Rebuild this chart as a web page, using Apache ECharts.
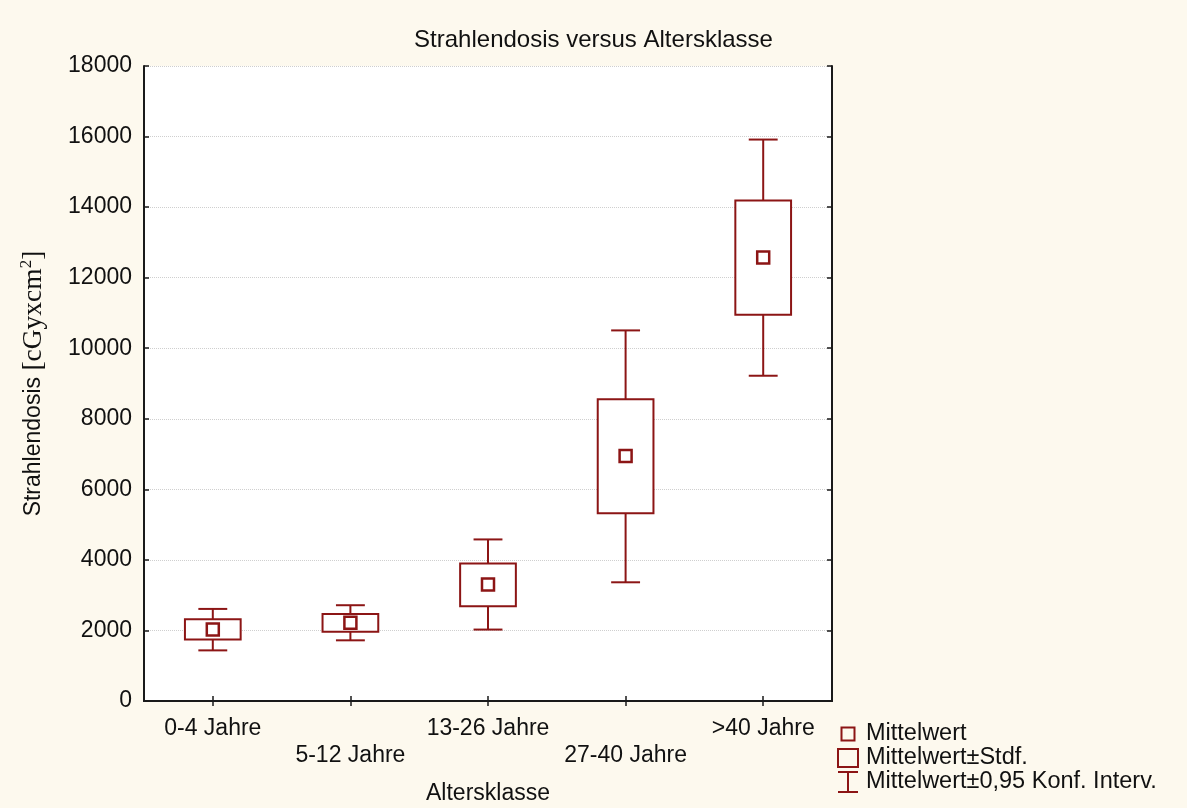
<!DOCTYPE html>
<html>
<head>
<meta charset="utf-8">
<script src="https://cdn.jsdelivr.net/npm/echarts@6/dist/echarts.min.js"></script>
<style>
  html, body { margin: 0; padding: 0; background: #fdf9ee; }
  #chart { width: 1187px; height: 808px; }
</style>
</head>
<body>
<div id="chart"></div>
<script>
// Age classes and dose statistics (cGy·cm²)
const categories = ['0-4 Jahre', '5-12 Jahre', '13-26 Jahre', '27-40 Jahre', '>40 Jahre'];
const means  = [2030, 2220, 3300, 6945, 12570];
const sdLow  = [1740, 1965, 2685, 5325, 10950];
const sdHigh = [2315, 2465, 3900, 8555, 14190];
const ciLow  = [1435, 1720, 2025, 3365, 9220];
const ciHigh = [2610, 2715, 4580, 10505, 15915];

const RED = '#8c1515';
const SANS = 'Liberation Sans, Arial, sans-serif';
const SERIF = 'Liberation Serif, Times New Roman, serif';

const sdData = categories.map((c, i) => [i, sdLow[i], sdHigh[i]]);
const ciData = categories.map((c, i) => [i, ciLow[i], ciHigh[i]]);
const meanData = categories.map((c, i) => [i, means[i]]);

const chart = echarts.init(document.getElementById('chart'));

const frameLine = { show: true, lineStyle: { color: '#1a1a1a', width: 2 } };
const innerTick = { show: true, inside: true, length: 5, lineStyle: { color: '#1a1a1a', width: 1.5 } };

// legend glyphs: drawn in a 20x20 cell, with the bounding box widened to 23 for spacing
const legendIconStyle = { color: 'rgba(0,0,0,0)', borderColor: RED, borderWidth: 2 };

chart.setOption({
  backgroundColor: '#fdf9ee',
  animation: false,
  title: {
    text: 'Strahlendosis versus Altersklasse',
    left: 'center',
    top: 23,
    textStyle: { fontFamily: SANS, fontWeight: 'normal', fontSize: 24, color: '#111' }
  },
  grid: {
    left: 144, right: 355, top: 66, bottom: 107,
    outerBoundsMode: 'none',
    containLabel: false,
    show: true, backgroundColor: '#ffffff', borderWidth: 0
  },
  legend: {
    orient: 'vertical',
    left: 837,
    top: 722,
    height: 86,
    padding: 0,
    itemWidth: 23,
    itemHeight: 20,
    itemGap: 0,
    textStyle: { fontFamily: SANS, fontSize: 23.5, color: '#111', lineHeight: 20 },
    data: [
      { name: 'Mittelwert', icon: 'path://M0,0M23,20M3.5,3.5H16.5V16.5H3.5Z', itemStyle: legendIconStyle },
      { name: 'Mittelwert±Stdf.', icon: 'path://M0,0M23,20M0,1H20V19H0Z', itemStyle: legendIconStyle },
      { name: 'Mittelwert±0,95 Konf. Interv.', icon: 'path://M23,0M0,0H20M10,0V20M0,20H20', itemStyle: legendIconStyle }
    ],
    selectedMode: false
  },
  xAxis: [
    {
      type: 'category',
      data: categories,
      position: 'bottom',
      axisLine: frameLine,
      axisTick: Object.assign({ alignWithLabel: true }, innerTick),
      axisLabel: {
        fontFamily: SANS, fontSize: 23, color: '#111', margin: 14, lineHeight: 27,
        interval: 0,
        formatter: (v, i) => (i % 2 ? '\n' + v : v)
      },
      name: 'Altersklasse',
      nameLocation: 'middle',
      nameGap: 81,
      nameTextStyle: { fontFamily: SANS, fontSize: 23, color: '#111' }
    },
    {
      type: 'category',
      data: categories,
      position: 'top',
      axisLine: frameLine,
      axisTick: Object.assign({ alignWithLabel: true }, innerTick),
      axisLabel: { show: false }
    }
  ],
  yAxis: [
    {
      type: 'value',
      min: 0, max: 18000, interval: 2000,
      position: 'left',
      axisLine: frameLine,
      axisTick: innerTick,
      axisLabel: {
        fontFamily: SANS, fontSize: 23, color: '#111', margin: 12,
        formatter: v => String(v)
      },
      splitLine: { show: true, lineStyle: { color: '#cfcfcf', type: [1, 1], width: 1 } },
      name: '{a|Strahlendosis }{b|[cGyxcm}{c|2}{b|]}',
      nameLocation: 'middle',
      nameGap: 94,
      nameTextStyle: {
        rich: {
          a: { fontFamily: SANS, fontSize: 23, color: '#111', lineHeight: 32 },
          b: { fontFamily: SERIF, fontSize: 27.5, color: '#111', lineHeight: 32 },
          c: { fontFamily: SERIF, fontSize: 17, color: '#111', verticalAlign: 'top', lineHeight: 17 }
        }
      }
    },
    {
      type: 'value',
      min: 0, max: 18000, interval: 2000,
      position: 'right',
      axisLine: frameLine,
      axisTick: innerTick,
      axisLabel: { show: false },
      splitLine: { show: false }
    }
  ],
  series: [
    {
      name: 'Mittelwert±0,95 Konf. Interv.',
      type: 'custom',
      itemStyle: { color: RED },
      encode: { x: 0, y: [1, 2] },
      data: ciData,
      renderItem: function (params, api) {
        const x = api.value(0);
        const lo = api.coord([x, api.value(1)]);
        const hi = api.coord([x, api.value(2)]);
        const half = api.size([1, 0])[0] * 0.105;
        const style = { stroke: RED, lineWidth: 2, fill: null };
        return {
          type: 'group',
          children: [
            { type: 'line', shape: { x1: lo[0], y1: lo[1], x2: hi[0], y2: hi[1] }, style },
            { type: 'line', shape: { x1: hi[0] - half, y1: hi[1], x2: hi[0] + half, y2: hi[1] }, style },
            { type: 'line', shape: { x1: lo[0] - half, y1: lo[1], x2: lo[0] + half, y2: lo[1] }, style }
          ]
        };
      }
    },
    {
      name: 'Mittelwert±Stdf.',
      type: 'custom',
      itemStyle: { color: RED },
      encode: { x: 0, y: [1, 2] },
      data: sdData,
      renderItem: function (params, api) {
        const x = api.value(0);
        const lo = api.coord([x, api.value(1)]);
        const hi = api.coord([x, api.value(2)]);
        const w = api.size([1, 0])[0] * 0.405;
        return {
          type: 'rect',
          shape: { x: lo[0] - w / 2, y: hi[1], width: w, height: lo[1] - hi[1] },
          style: { fill: '#ffffff', stroke: RED, lineWidth: 2 }
        };
      }
    },
    {
      name: 'Mittelwert',
      type: 'scatter',
      symbol: 'rect',
      symbolSize: 12,
      data: meanData,
      itemStyle: { color: '#ffffff', borderColor: RED, borderWidth: 2.5, opacity: 1 }
    }
  ]
});
</script>
</body>
</html>
